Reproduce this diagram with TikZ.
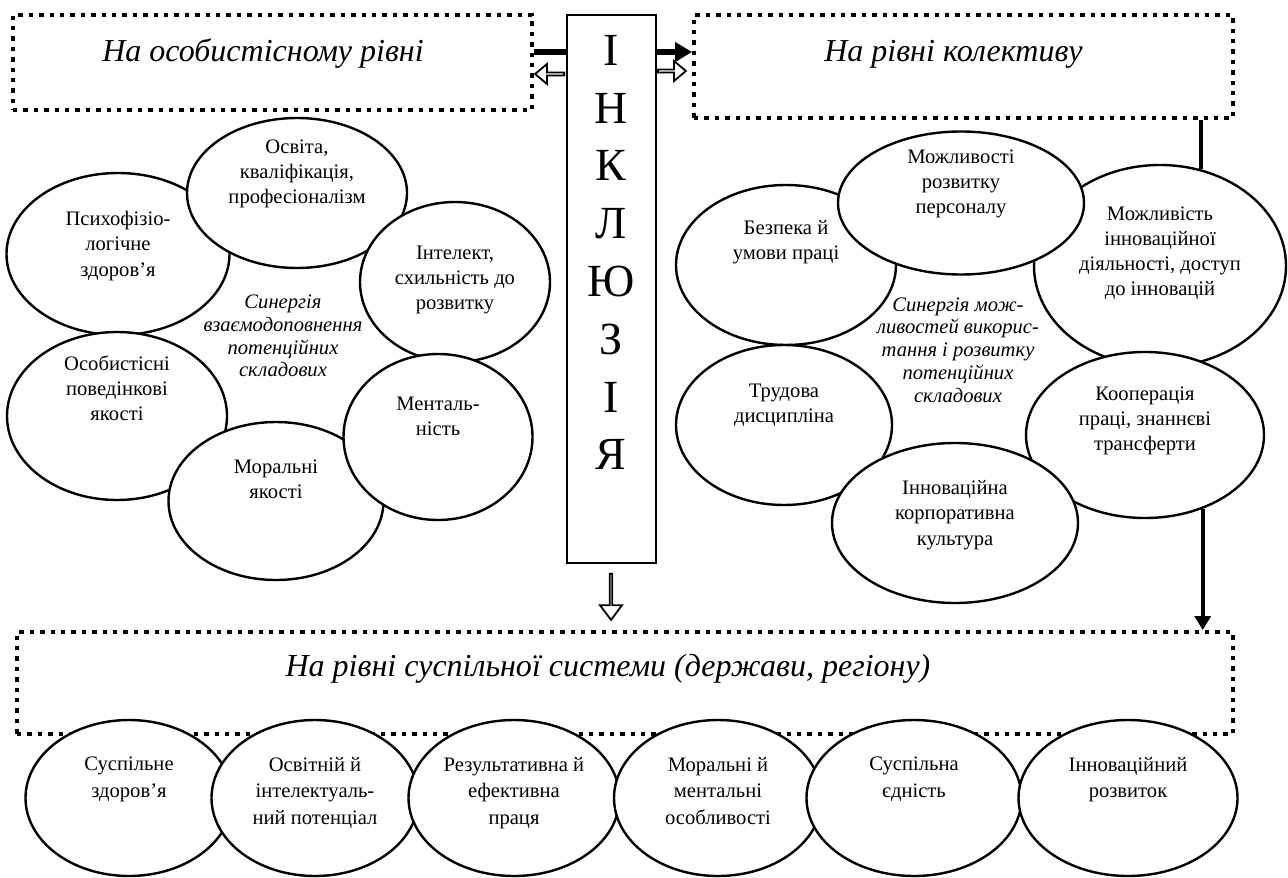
\documentclass[tikz,border=0pt]{standalone}
\usepackage{fontspec}
\setmainfont{Liberation Serif}
\usetikzlibrary{shapes.geometric,shapes.arrows,arrows.meta,positioning}

\tikzset{
  levelbox/.style={draw, line width=2pt, dash pattern=on 2.2pt off 3pt, inner sep=0pt},
  leveltext/.style={font=\fontsize{16}{19}\selectfont\itshape, inner sep=0pt},
  bubble/.style={ellipse, draw, line width=1.2pt, fill=white, inner sep=0pt},
  bubtext/.style={align=center, inner sep=0pt, font=\fontsize{10.3}{12.6}\selectfont},
  bottext/.style={align=center, inner sep=0pt, font=\fontsize{10.3}{13.3}\selectfont},
  syntext/.style={align=center, inner sep=0pt, font=\fontsize{10.3}{11.4}\selectfont\itshape},
  hollowarrow/.style={single arrow, draw, line width=0.9pt, fill=white, inner sep=0pt, minimum width=10pt, single arrow head extend=2.5pt, single arrow tip angle=80},
  thickline/.style={line width=3pt},
  link/.style={line width=2pt},
}

\begin{document}
\begin{tikzpicture}[x=0.5pt, y=-0.5pt]
\useasboundingbox (0,0) rectangle (1288,877);

\node[levelbox, minimum width=259.5pt, minimum height=47.5pt] (osob) at (272.5,62.5) {};
\node[leveltext] (osobtxt) at ([xshift=-4.75pt,yshift=4.25pt]osob.center) {На особистісному рівні};
\node[levelbox, minimum width=269.5pt, minimum height=51.5pt] (kolekt) at (963.5,66.5) {};
\node[leveltext] (kolekttxt) at ([xshift=-5pt,yshift=6.25pt]kolekt.center) {На рівні колективу};
\node[levelbox, minimum width=608pt, minimum height=51pt] (suspil) at (625,683) {};
\node[leveltext] (suspiltxt) at ([xshift=-8.5pt,yshift=7pt]suspil.center) {На рівні суспільної системи (держави, регіону)};

\node[draw, line width=1pt, minimum width=44.5pt, minimum height=274pt, inner sep=0pt] (inkl) at (611,289) {};
\node[align=center, inner sep=0pt, font=\fontsize{23}{28.9}\selectfont] (inkltxt) at ([yshift=18.25pt]inkl.center) {І\\Н\\К\\Л\\Ю\\З\\І\\Я};

\draw[thickline] ([yshift=5.25pt]osob.east) -- ([yshift=5.25pt]osob.east -| inkl.west);
\draw[thickline, -{Triangle[length=8.5pt,width=9.5pt]}] ([yshift=5.25pt]osob.east -| inkl.east) -- ([yshift=5.25pt]osob.east -| kolekt.west);
\node[hollowarrow, minimum height=14.5pt, shape border rotate=180] (backl) at (550.5,74) {};
\node[hollowarrow, minimum height=14pt] (backr) at (671,71) {};
\node[hollowarrow, minimum height=23pt, minimum width=11pt, single arrow head extend=3.25pt, shape border rotate=270, single arrow tip angle=74] (down) at (611,596) {};

\node[bubble, minimum width=111.5pt, minimum height=81pt] (psyh) at (118,254) {};
\node[bubtext] (psyhtxt) at ([yshift=4pt]psyh.center) {Психофізіо-\\логічне\\здоров’я};
\node[bubble, minimum width=110pt, minimum height=84pt] (osob2) at (117,416) {};
\node[bubtext] (osob2txt) at ([yshift=14pt]osob2.center) {Особистісні\\поведінкові\\якості};
\node[bubble, minimum width=107.5pt, minimum height=79pt] (moral) at (276,501) {};
\node[bubtext] (moraltxt) at ([yshift=11pt]moral.center) {Моральні\\якості};
\node[bubble, minimum width=110pt, minimum height=75pt] (osvita) at (297,193) {};
\node[bubtext] (osvitatxt) at ([yshift=9.5pt]osvita.center) {Освіта,\\кваліфікація,\\професіоналізм};
\node[bubble, minimum width=95pt, minimum height=80pt] (intel) at (455,282) {};
\node[bubtext] (inteltxt) at ([yshift=1pt]intel.center) {Інтелект,\\схильність до\\розвитку};
\node[bubble, minimum width=94.5pt, minimum height=83pt] (mental) at (438,437) {};
\node[bubtext] (mentaltxt) at ([yshift=10.5pt]mental.center) {Менталь-\\ність};

\node[bubble, minimum width=110pt, minimum height=80pt] (bezp) at (786,265) {};
\node[bubtext] (bezptxt) at ([yshift=11.5pt]bezp.center) {Безпека й\\умови праці};
\node[bubble, minimum width=108pt, minimum height=80pt] (trud) at (784,425) {};
\node[bubtext] (trudtxt) at ([yshift=10pt]trud.center) {Трудова\\дисципліна};
\node[bubble, minimum width=126pt, minimum height=101pt] (innov) at (1160,266) {};
\node[bubtext] (innovtxt) at ([yshift=6.5pt]innov.center) {Можливість\\інноваційної\\діяльності, доступ\\до інновацій};
\node[bubble, minimum width=123pt, minimum height=71.5pt] (mozhl) at (961,203) {};
\node[bubtext] (mozhltxt) at ([yshift=9.5pt]mozhl.center) {Можливості\\розвитку\\персоналу};
\node[bubble, minimum width=119pt, minimum height=83pt] (koop) at (1145,435) {};
\node[bubtext] (kooptxt) at ([yshift=7pt]koop.center) {Кооперація\\праці, знаннєві\\трансферти};
\node[bubble, minimum width=123pt, minimum height=80pt] (kult) at (955,523) {};
\node[bubtext] (kulttxt) at ([yshift=4pt]kult.center) {Інноваційна\\корпоративна\\культура};

\draw[link] (innov.67) -- (innov.67 |- kolekt.south);
\draw[link, -{Triangle[length=7pt,width=8pt]}] (koop.-52) -- (koop.-52 |- suspil.north);

\node[bubble, minimum width=103.5pt, minimum height=78pt] (zdorov) at (129,798) {};
\node[bottext, below=19pt of zdorov.north] (zdorovtxt) {Суспільне\\здоров’я};
\node[bubble, minimum width=103.5pt, minimum height=78pt] (osvpot) at (315,798) {};
\node[bottext, below=19pt of osvpot.north] (osvpottxt) {Освітній й\\інтелектуаль-\\ний потенціал};
\node[bubble, minimum width=105.5pt, minimum height=78pt] (rezprac) at (514,798) {};
\node[bottext, below=19pt of rezprac.north] (rezpractxt) {Результативна й\\ефективна\\праця};
\node[bubble, minimum width=104pt, minimum height=78pt] (morment) at (718,798) {};
\node[bottext, below=19pt of morment.north] (mormenttxt) {Моральні й\\ментальні\\особливості};
\node[bubble, minimum width=107.5pt, minimum height=78pt] (yednist) at (914,798) {};
\node[bottext, below=19pt of yednist.north] (yednisttxt) {Суспільна\\єдність};
\node[bubble, minimum width=109.5pt, minimum height=78pt] (innrozv) at (1128,798) {};
\node[bottext, below=19pt of innrozv.north] (innrozvtxt) {Інноваційний\\розвиток};

\node[syntext] (syn1) at (283,336) {Синергія\\взаємодоповнення\\потенційних\\складових};
\node[syntext] (syn2) at (958,350) {Синергія мож-\\ливостей викорис-\\тання і розвитку\\потенційних\\складових};
\end{tikzpicture}
\end{document}
